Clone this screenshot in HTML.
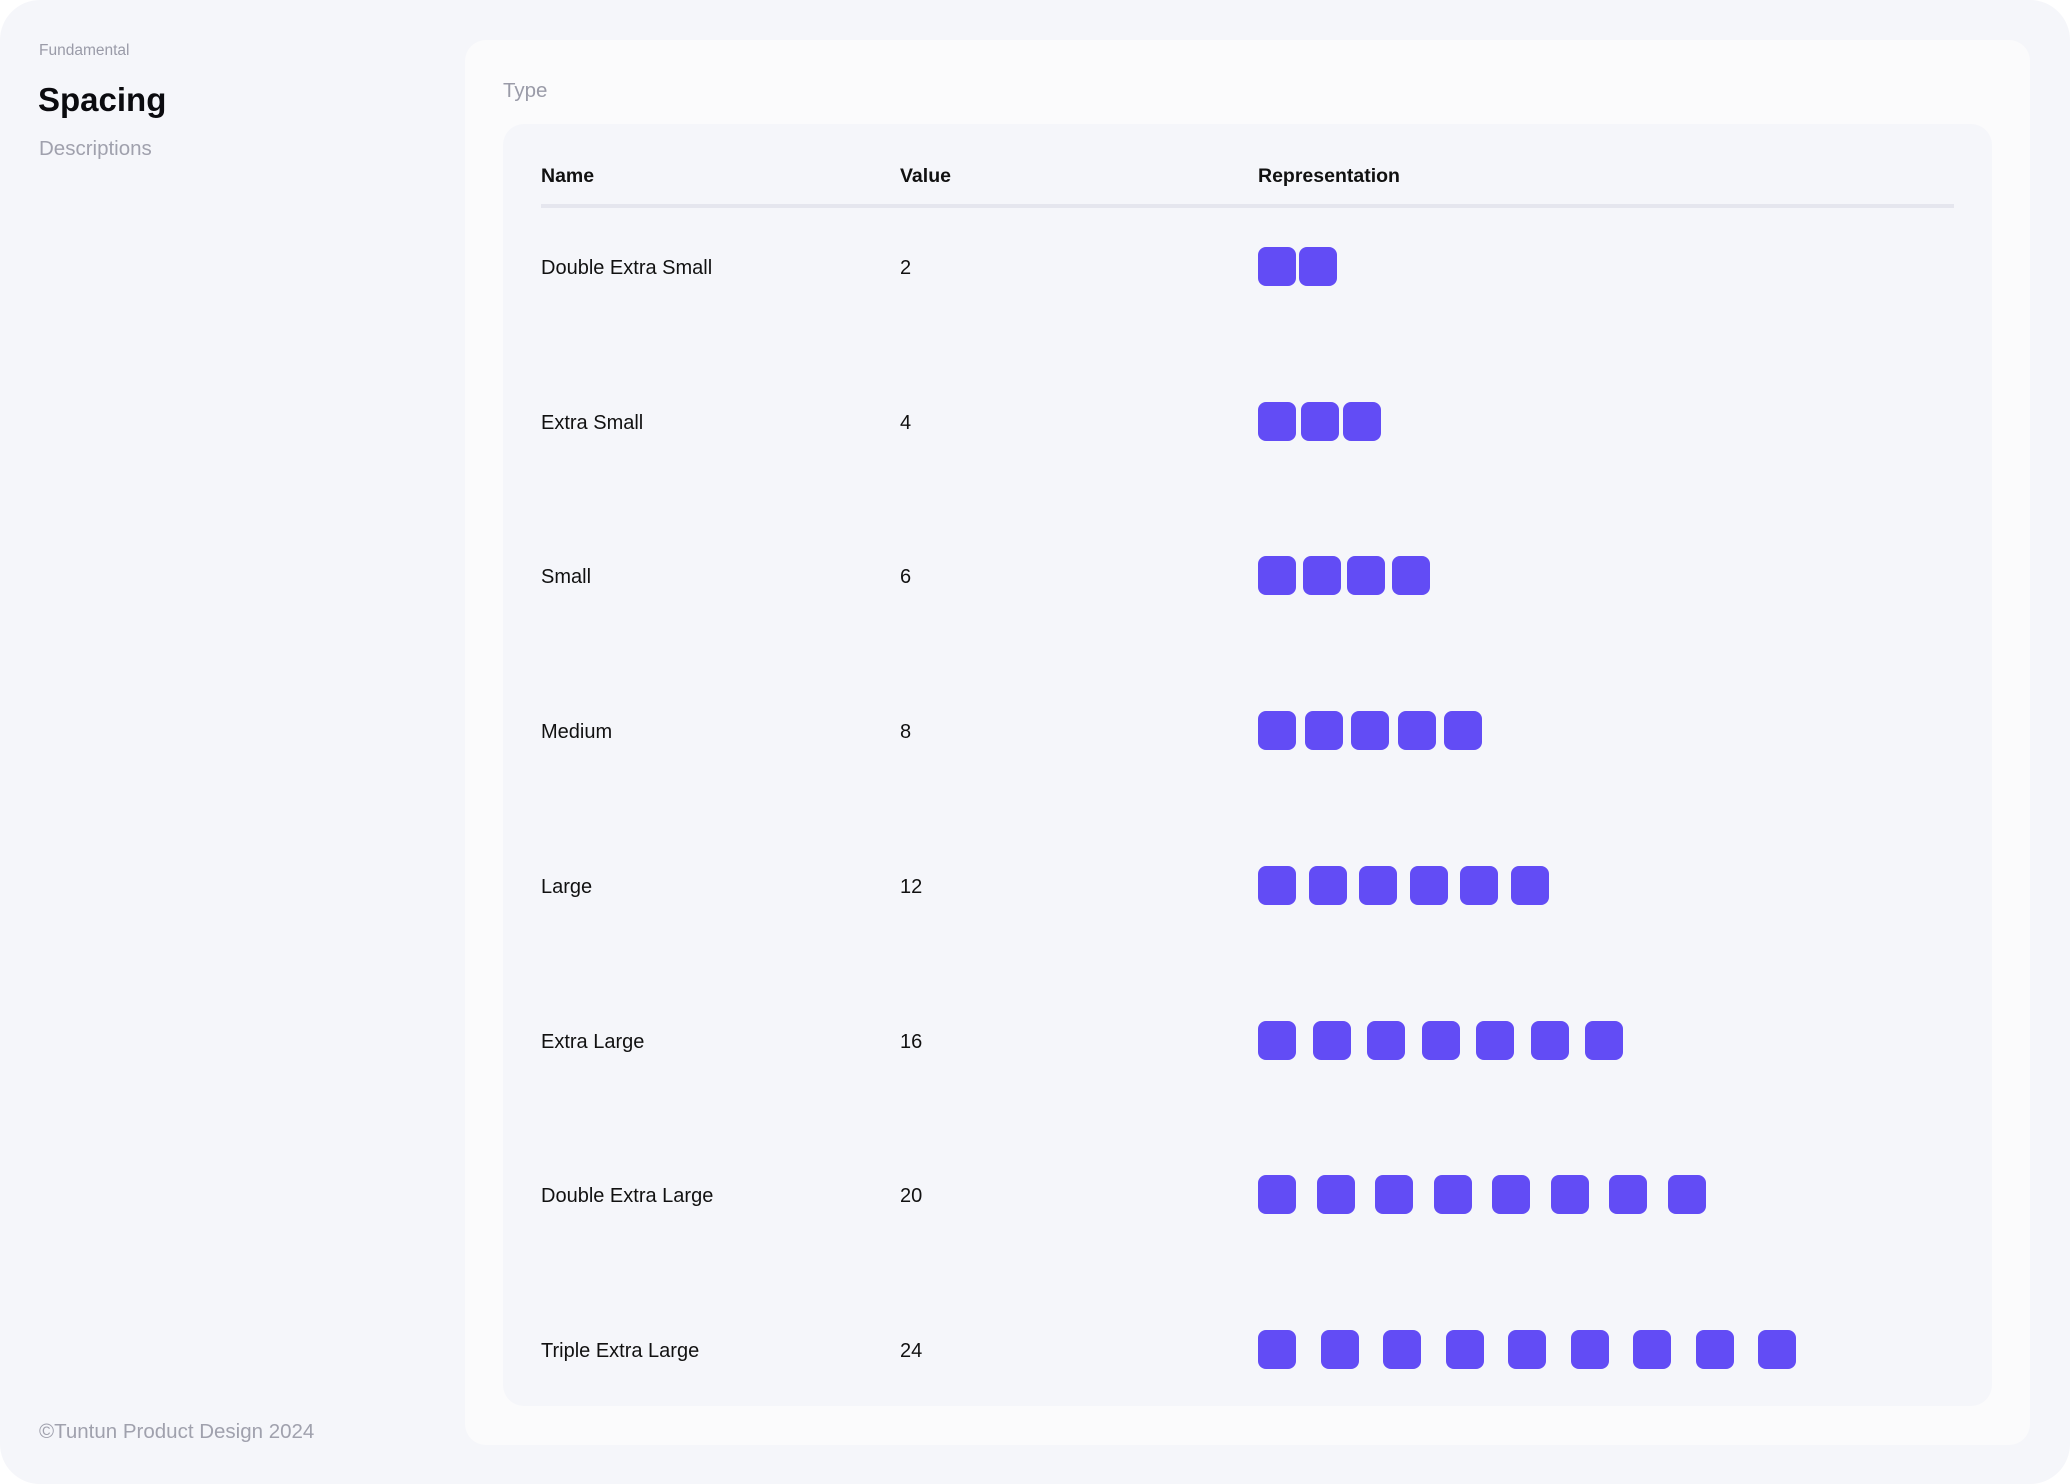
<!DOCTYPE html>
<html><head><meta charset="utf-8"><style>
body{margin:0;width:2070px;height:1484px;background:#fff;font-family:"Liberation Sans",sans-serif;overflow:hidden}
#page{position:absolute;left:0;top:0;width:2070px;height:1484px;background:#f5f6fa;border-radius:40px}
.t{position:absolute;white-space:nowrap;line-height:1}
#card{position:absolute;left:465px;top:40px;width:1565px;height:1405px;background:#fbfbfc;border-radius:21px}
#panel{position:absolute;left:503px;top:124px;width:1489px;height:1282px;background:#f5f6fa;border-radius:21px}
.sq{position:absolute;width:38px;height:39px;background:#624cf5;border-radius:8px}
.h{font-weight:bold;font-size:19.5px;color:#111}
.r{font-size:20px;color:#111}
</style></head><body>
<div id="page">
<div class="t" style="left:39px;top:43px;font-size:15.5px;color:#9a9ba8">Fundamental</div>
<div class="t" style="left:38px;top:83px;font-size:33px;font-weight:bold;color:#0b0b0f">Spacing</div>
<div class="t" style="left:39px;top:139px;font-size:20.5px;color:#a0a1ad">Descriptions</div>
<div class="t" style="left:39px;top:1422px;font-size:20.5px;color:#a0a1ad">©Tuntun Product Design 2024</div>
<div id="card"></div>
<div class="t" style="left:503px;top:81px;font-size:20.5px;color:#9a9ba8">Type</div>
<div id="panel"></div>
<div class="t h" style="left:541px;top:167px">Name</div>
<div class="t h" style="left:900px;top:167px">Value</div>
<div class="t h" style="left:1258px;top:167px">Representation</div>
<div style="position:absolute;left:541px;top:204px;width:1413px;height:4px;background:#e5e6ee"></div>
<div id="rows"></div>
</div>
<script>
const names=["Double Extra Small","Extra Small","Small","Medium","Large","Extra Large","Double Extra Large","Triple Extra Large"];
const values=[2,4,6,8,12,16,20,24];
const rows=document.getElementById('rows');
names.forEach((n,i)=>{
  const cy=266+i*154.7;
  const a=document.createElement('div');a.className='t r';a.style.left='541px';a.style.top=(cy-8)+'px';a.textContent=n;
  
  
  rows.appendChild(a);
  const b=document.createElement('div');b.className='t r';b.style.left='900px';b.style.top=(cy-8)+'px';b.textContent=values[i];
  
  
  rows.appendChild(b);
  const gap=values[i]+0.5;
  for(let k=0;k<i+2;k++){
    const s=document.createElement('div');s.className='sq';
    s.style.left=(1258+k*(38+gap))+'px';s.style.top=(cy-19)+'px';
    
    
    rows.appendChild(s);
  }
});
</script>
</body></html>
